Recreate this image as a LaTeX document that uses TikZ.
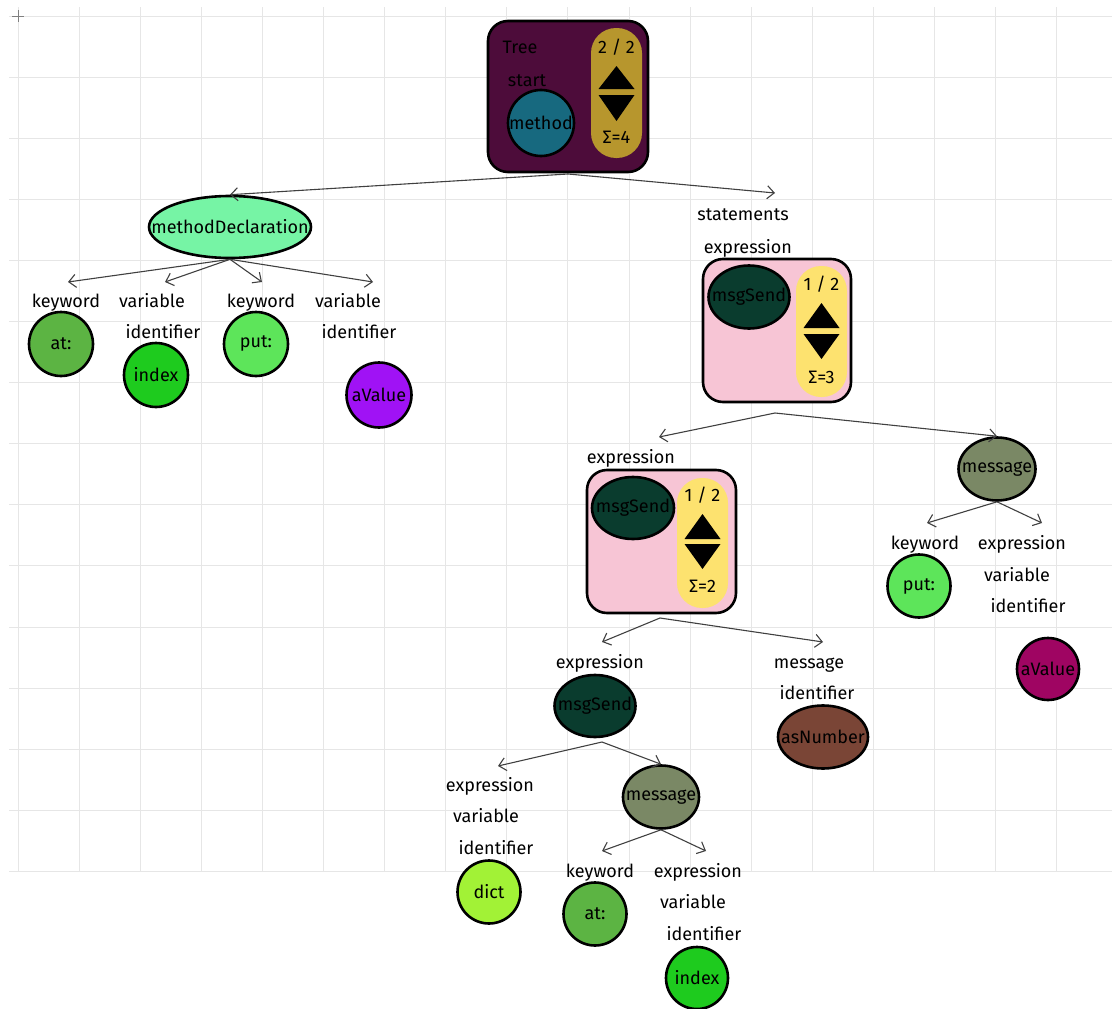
\documentclass[tikz,border=0pt]{standalone}
\usepackage{fontspec}
\setmainfont{Fira Sans}
\usepackage{tikz}
\usetikzlibrary{shapes.geometric, arrows.meta, positioning}
\usepackage{xcolor}
\definecolor{treeplum}{HTML}{4D0C3A}
\definecolor{methteal}{HTML}{17697F}
\definecolor{goldpill}{HTML}{B7962D}
\definecolor{mintdecl}{HTML}{76F4A5}
\definecolor{atgreen}{HTML}{5CB443}
\definecolor{idxgreen}{HTML}{1ECB1E}
\definecolor{putgreen}{HTML}{5DE55A}
\definecolor{valpurple}{HTML}{A012F5}
\definecolor{pinkbox}{HTML}{F7C5D5}
\definecolor{yellowpill}{HTML}{FDE26F}
\definecolor{senddark}{HTML}{0A3C2E}
\definecolor{olivemsg}{HTML}{7A8865}
\definecolor{brownnum}{HTML}{7A4536}
\definecolor{limedict}{HTML}{A2F236}
\definecolor{valmagenta}{HTML}{9F0562}
\definecolor{gridgray}{HTML}{E6E6E6}
\tikzstyle{box} = [rectangle, rounded corners=20pt, draw=black, line width=2.6pt, inner sep=0pt]
\tikzstyle{pill} = [rectangle, rounded corners=25pt, inner sep=0pt, minimum width=51pt]
\tikzstyle{oval} = [ellipse, draw=black, line width=2.6pt, inner sep=0pt, text=black]
\tikzstyle{leaf} = [circle, draw=black, line width=2.6pt, inner sep=0pt, text=black]
\tikzstyle{role} = [anchor=mid, inner sep=0pt, yshift=-3pt]
\tikzstyle{gridline} = [draw=gridgray, line width=1pt]
\tikzstyle{arrow} = [->, >={Straight Barb[length=7pt,width=13pt]}, draw=black!75, line width=1.1pt]

\begin{document}
\begin{tikzpicture}[x=1pt, y=-1pt, font=\fontsize{18}{21}\selectfont]
\useasboundingbox (0,0) rectangle (1112,1009);

% grid
\foreach \i in {0,...,17}
  \draw[gridline] ({18+61.1*\i},7) -- ({18+61.1*\i},872);
\foreach \j in {0,...,14}
  \draw[gridline] (9,{16+61.1*\j}) -- (1112,{16+61.1*\j});
\draw[gray, line width=0.8pt] (12,16) -- (24,16) (18,10) -- (18,22);

% Root
\node (tree) [box, fill=treeplum, minimum width=160pt, minimum height=151pt] at (568,96.5) {};
\node (treeL) [role] at (520,48) {Tree};
\node (startL) [role] at (527,81) {start};
\node (method) [leaf, fill=methteal, minimum size=66pt] at (541,123) {\makebox[0pt]{method}};
\node (pill0) [pill, fill=goldpill, minimum height=130pt] at (616.5,93) {};
\node (page0) [role] at (616.5,48) {2 / 2};
\node (sum0) [role] at (616.5,138) {Σ=4};
\fill (616.5,66) -- (634.5,89) -- (598.5,89) -- cycle;
\fill (598.5,95) -- (634.5,95) -- (616.5,121) -- cycle;

% methodDeclaration
\node (decl) [oval, fill=mintdecl, minimum width=162pt, minimum height=62pt] at (230,227) {\makebox[0pt]{methodDeclaration}};
\node (kwL1) [role] at (66,302) {keyword};
\node (at1) [leaf, fill=atgreen, minimum size=64pt] at (61,344) {\makebox[0pt]{at:}};
\node (varL1) [role] at (152,302) {variable};
\node (idL1) [role] at (163,333) {identifier};
\node (index1) [leaf, fill=idxgreen, minimum size=64pt] at (156,375) {\makebox[0pt]{index}};
\node (kwL2) [role] at (261,302) {keyword};
\node (put1) [leaf, fill=putgreen, minimum size=64pt] at (256,344) {\makebox[0pt]{put:}};
\node (varL2) [role] at (348,302) {variable};
\node (idL2) [role] at (359,333) {identifier};
\node (value1) [leaf, fill=valpurple, minimum size=65pt] at (379,395) {\makebox[0pt]{aValue}};

% statements
\node (stmL) [role] at (743,215) {statements};
\node (exL1) [role] at (748,248) {expression};
\node (box1) [box, fill=pinkbox, minimum width=148pt, minimum height=143pt] at (777,330.5) {};
\node (send1) [oval, fill=senddark, minimum width=81pt, minimum height=63pt] at (749,297) {\makebox[0pt]{msgSend}};
\node (pill1) [pill, fill=yellowpill, minimum height=131pt] at (821.5,331.5) {};
\node (page1) [role] at (821.5,285) {1 / 2};
\node (sum1) [role] at (821.5,378) {Σ=3};
\fill (821.5,303) -- (839.5,328) -- (803.5,328) -- cycle;
\fill (803.5,334) -- (839.5,334) -- (821.5,359) -- cycle;

% inner expression
\node (exL2) [role] at (631,458) {expression};
\node (box2) [box, fill=pinkbox, minimum width=149pt, minimum height=143pt] at (661.5,541.5) {};
\node (send2) [oval, fill=senddark, minimum width=82pt, minimum height=62pt] at (633,508) {\makebox[0pt]{msgSend}};
\node (pill2) [pill, fill=yellowpill, minimum height=130pt] at (702.5,543) {};
\node (page2) [role] at (702.5,496) {1 / 2};
\node (sum2) [role] at (702.5,587) {Σ=2};
\fill (702.5,514) -- (720.5,539) -- (684.5,539) -- cycle;
\fill (684.5,544) -- (720.5,544) -- (702.5,569) -- cycle;

% message put:
\node (msg1) [oval, fill=olivemsg, minimum width=77pt, minimum height=63pt] at (997,469) {\makebox[0pt]{message}};
\node (kwL3) [role] at (925,544) {keyword};
\node (put2) [leaf, fill=putgreen, minimum size=63pt] at (919,586) {\makebox[0pt]{put:}};
\node (exL3) [role] at (1022,544) {expression};
\node (varL3) [role] at (1017,576) {variable};
\node (idL3) [role] at (1028,607) {identifier};
\node (value2) [leaf, fill=valmagenta, minimum size=62pt] at (1048,669) {\makebox[0pt]{aValue}};

% dict at: index
\node (exL4) [role] at (600,663) {expression};
\node (send3) [oval, fill=senddark, minimum width=81pt, minimum height=62pt] at (595,706) {\makebox[0pt]{msgSend}};
\node (msgL1) [role] at (809,663) {message};
\node (idL4) [role] at (817,694) {identifier};
\node (asnum) [oval, fill=brownnum, minimum width=90pt, minimum height=63pt] at (823,737) {\makebox[0pt]{asNumber}};
\node (exL5) [role] at (490,786) {expression};
\node (varL5) [role] at (486,817) {variable};
\node (idL5) [role] at (496,849) {identifier};
\node (dict) [leaf, fill=limedict, minimum size=63pt] at (489,892) {\makebox[0pt]{dict}};
\node (msg2) [oval, fill=olivemsg, minimum width=76pt, minimum height=63pt] at (661,797) {\makebox[0pt]{message}};
\node (kwL6) [role] at (600,872) {keyword};
\node (at2) [leaf, fill=atgreen, minimum size=63pt] at (595,914) {\makebox[0pt]{at:}};
\node (exL6) [role] at (698,872) {expression};
\node (varL6) [role] at (693,903) {variable};
\node (idL6) [role] at (704,935) {identifier};
\node (index2) [leaf, fill=idxgreen, minimum size=62pt] at (697,978) {\makebox[0pt]{index}};

% arrow ends
\coordinate (treeOut) at (568,174);
\coordinate (stmIn) at (775,193);
\coordinate (kwIn1) at (68,282);
\coordinate (varIn1) at (165,282);
\coordinate (kwIn2) at (262,282);
\coordinate (varIn2) at (373,282);
\coordinate (box1Out) at (775,413);
\coordinate (exIn2) at (659,437);
\coordinate (box2Out) at (660,618);
\coordinate (exIn4) at (602,642);
\coordinate (msgIn1) at (823,642);
\coordinate (send3Out) at (602,742);
\coordinate (exIn5) at (498,766);
\coordinate (kwIn6) at (602,851);
\coordinate (exIn6) at (706,851);
\coordinate (kwIn3) at (927,523);
\coordinate (exIn3) at (1042,523);

% Arrows
\draw [arrow] (treeOut) -- (decl.north);
\draw [arrow] (treeOut) -- (stmIn);
\draw [arrow] (decl.south) -- (kwIn1);
\draw [arrow] (decl.south) -- (varIn1);
\draw [arrow] (decl.south) -- (kwIn2);
\draw [arrow] (decl.south) -- (varIn2);
\draw [arrow] (box1Out) -- (exIn2);
\draw [arrow] (box1Out) -- (msg1.north);
\draw [arrow] (msg1.south) -- (kwIn3);
\draw [arrow] (msg1.south) -- (exIn3);
\draw [arrow] (box2Out) -- (exIn4);
\draw [arrow] (box2Out) -- (msgIn1);
\draw [arrow] (send3Out) -- (exIn5);
\draw [arrow] (send3Out) -- (msg2.north);
\draw [arrow] (msg2.south) -- (kwIn6);
\draw [arrow] (msg2.south) -- (exIn6);

\end{tikzpicture}
\end{document}
